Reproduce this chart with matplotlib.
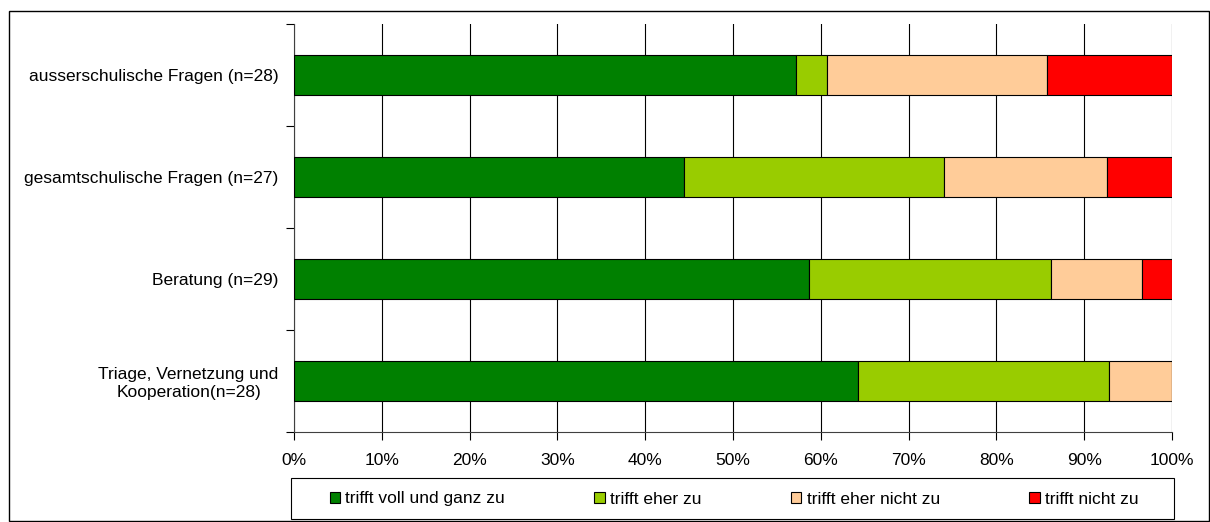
import numpy as np
import matplotlib.pyplot as plt
from matplotlib.patches import Rectangle

plt.rcParams['font.family'] = ['Liberation Sans', 'DejaVu Sans']

# Kategorien (von oben nach unten)
categories = ['ausserschulische Fragen (n=28)',
              'gesamtschulische Fragen (n=27)',
              'Beratung (n=29)',
              'Triage, Vernetzung und\nKooperation(n=28)']
n_total = [28, 27, 29, 28]

# Anzahl Antworten pro Kategorie
voll = [16, 12, 17, 18]
eher = [1, 8, 8, 8]
eher_nicht = [7, 5, 3, 2]
nicht = [4, 2, 1, 0]

series_names = ['trifft voll und ganz zu', 'trifft eher zu',
                'trifft eher nicht zu', 'trifft nicht zu']
colors = ['#008000', '#99CC00', '#FFCC99', '#FF0000']

counts = np.array([voll, eher, eher_nicht, nicht], dtype=float)
perc = counts / np.array(n_total)

fs = 12.5

fig = plt.figure(figsize=(12.1, 5.22), dpi=100)
# aeusserer Rahmen
fig.patches.append(Rectangle((9 / 1210, 1 / 522), 1200 / 1210, 510 / 522,
                             transform=fig.transFigure, fill=False,
                             edgecolor='black', linewidth=1))
# Rahmen der Legende
fig.patches.append(Rectangle((291 / 1210, 3 / 522), 883 / 1210, 41 / 522,
                             transform=fig.transFigure, fill=False,
                             edgecolor='black', linewidth=0.8))

ax = fig.add_axes([294 / 1210, 1 - 432 / 522, 878 / 1210, 408 / 522])

ypos = np.arange(len(categories))[::-1]
left = np.zeros(len(categories))
for i in range(len(series_names)):
    ax.barh(ypos, perc[i], left=left, height=0.39, color=colors[i],
            edgecolor='black', linewidth=0.8, label=series_names[i], zorder=3)
    left += perc[i]

ax.set_xlim(0, 1)
ax.set_ylim(-0.5, len(categories) - 0.5)
ax.set_xticks(np.arange(0, 1.01, 0.1))
ax.set_xticklabels(['%d%%' % (v * 10) for v in range(11)], fontsize=fs)
ax.xaxis.grid(True, color='black', linewidth=0.8, zorder=0)
ax.tick_params(axis='x', direction='out', length=6, width=0.8, pad=9)

ax.set_yticks(ypos)
ax.set_yticklabels(categories, fontsize=fs, ha='right', multialignment='center',
                   linespacing=1.25)
ax.tick_params(axis='y', length=0, pad=11)
ax.set_yticks(np.arange(-0.5, len(categories), 1), minor=True)
ax.tick_params(axis='y', which='minor', direction='out', length=6, width=0.8)

for s in ['top', 'right']:
    ax.spines[s].set_visible(False)
ax.spines['left'].set_color('#404040')
ax.spines['bottom'].set_color('#404040')

leg = fig.legend(loc='center', bbox_to_anchor=(734 / 1210, 1 - 499 / 522),
                 ncol=4, fontsize=fs, frameon=False,
                 handlelength=0.6, handleheight=0.6, handletextpad=0.3,
                 columnspacing=5.15, borderaxespad=0)

fig.savefig('out.png', dpi=100)
